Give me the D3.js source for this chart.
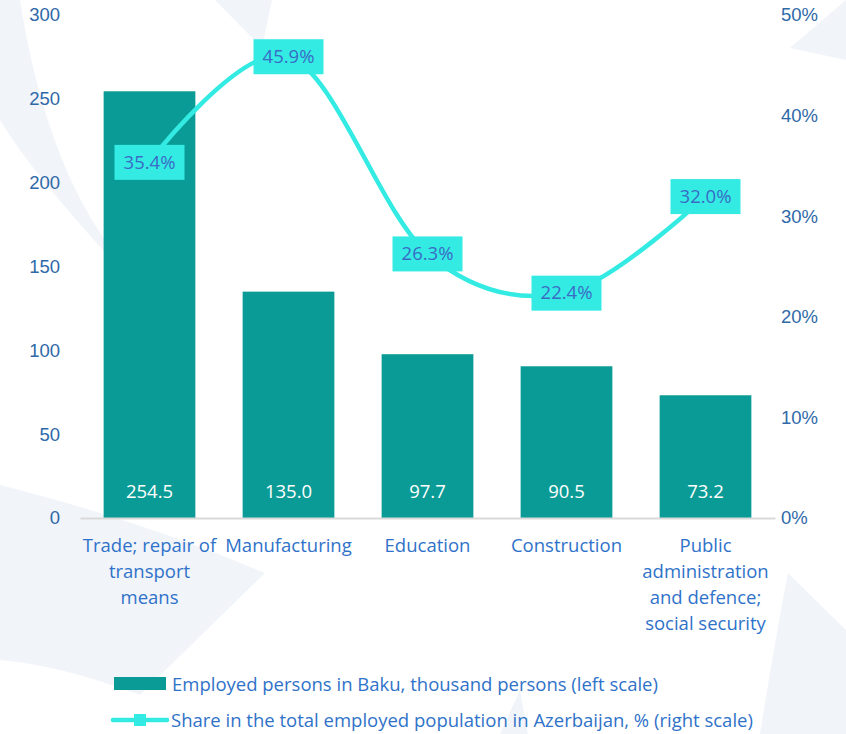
<!DOCTYPE html>
<html>
<head>
<meta charset="utf-8">
<script src="https://cdn.jsdelivr.net/npm/d3@7"></script>
<style>
  body { margin: 0; background: #fff; }
  svg { display: block; font-family: "Open Sans", Lato, sans-serif; }
</style>
</head>
<body>
<div class="chart"></div>
<script>
const categories = [
  ["Trade; repair of", "transport", "means"],
  ["Manufacturing"],
  ["Education"],
  ["Construction"],
  ["Public", "administration", "and defence;", "social security"]
];
const employed = [254.5, 135.0, 97.7, 90.5, 73.2];
const share = [35.4, 45.9, 26.3, 22.4, 32.0];
const leftTicks = [0, 50, 100, 150, 200, 250, 300];
const rightTicks = [0, 10, 20, 30, 40, 50];
const legendLabels = [
  "Employed persons in Baku, thousand persons (left scale)",
  "Share in the total employed population in Azerbaijan, % (right scale)"
];

const W = 846, H = 734;
const margin = { top: 15, left: 80, right: 71, bottom: 216 };
const width = W - margin.left - margin.right;
const height = H - margin.top - margin.bottom;

const barColor = "#0b9b96";
const lineColor = "#33ebe3";
const axisText = "#2e69a8";
const catText = "#2f72c9";
const fs = "18.5px";

const svg = d3.select(".chart").append("svg")
  .attr("width", W).attr("height", H);

// faint decorative background shapes
const bg = svg.append("g").attr("fill", "#f1f4f9");
bg.append("path").attr("d", "M0,0 L20,0 Q45,160 112,250 L112,260 Q30,170 0,120 Z");
bg.append("path").attr("d", "M0,485 Q140,520 265,573 L140,695 Q60,665 0,660 Z");
bg.append("path").attr("d", "M215,0 L272,0 L262,48 Z");
bg.append("path").attr("d", "M790,48 L846,0 L846,60 Z");
bg.append("path").attr("d", "M788,573 L846,630 L846,734 L760,734 Q775,640 788,573 Z");
bg.append("path").attr("d", "M500,734 L520,690 L528,734 Z");

const g = svg.append("g")
  .attr("transform", "translate(" + margin.left + "," + margin.top + ")");

const idx = d3.range(categories.length);
const x = d3.scaleBand().domain(idx).range([0, width]).paddingInner(0.34).paddingOuter(0.17);
const y = d3.scaleLinear().domain([0, 300]).range([height, 0]);
const y2 = d3.scaleLinear().domain([0, 50]).range([height, 0]);

// left axis
const yAxis = g.append("g")
  .call(d3.axisLeft(y).tickValues(leftTicks).tickSize(0).tickPadding(20));
yAxis.select(".domain").remove();
yAxis.selectAll("text").attr("fill", axisText).style("font-size", fs);

// right axis
const yAxis2 = g.append("g").attr("transform", "translate(" + width + ",0)")
  .call(d3.axisRight(y2).tickValues(rightTicks).tickFormat(d => d + "%").tickSize(0).tickPadding(6));
yAxis2.select(".domain").remove();
yAxis2.selectAll("text").attr("fill", axisText).style("font-size", fs);

// bars
g.selectAll(".bar").data(employed).enter().append("rect")
  .attr("class", "bar")
  .attr("x", (d, i) => x(i))
  .attr("width", x.bandwidth())
  .attr("y", d => y(d))
  .attr("height", d => height - y(d))
  .attr("fill", barColor);

g.selectAll(".barlabel").data(employed).enter().append("text")
  .attr("class", "barlabel")
  .attr("x", (d, i) => x(i) + x.bandwidth() / 2)
  .attr("y", height - 20)
  .attr("text-anchor", "middle")
  .attr("fill", "#fff")
  .style("font-size", fs)
  .text(d => d.toFixed(1));

// x axis
const xAxis = g.append("g").attr("transform", "translate(0," + height + ")")
  .call(d3.axisBottom(x).tickSize(0).tickFormat(""));
xAxis.select(".domain").attr("stroke", "#d9d9d9").attr("stroke-width", 2);

g.selectAll(".cat").data(categories).enter().append("text")
  .attr("class", "cat")
  .attr("text-anchor", "middle")
  .attr("fill", catText)
  .style("font-size", fs)
  .each(function (lines, i) {
    d3.select(this).selectAll("tspan").data(lines).enter().append("tspan")
      .attr("x", x(i) + x.bandwidth() / 2)
      .attr("y", (d, j) => height + 34 + j * 26)
      .text(d => d);
  });

// line
const line = d3.line()
  .x((d, i) => x(i) + x.bandwidth() / 2)
  .y(d => y2(d))
  .curve(d3.curveCardinal.tension(0));

g.append("path").datum(share)
  .attr("fill", "none")
  .attr("stroke", lineColor)
  .attr("stroke-width", 4.5)
  .attr("d", line);

const lbl = g.selectAll(".ptlabel").data(share).enter().append("g")
  .attr("class", "ptlabel")
  .attr("transform", (d, i) => "translate(" + (x(i) + x.bandwidth() / 2) + "," + y2(d) + ")");
lbl.append("rect")
  .attr("x", -35).attr("y", -17).attr("width", 70).attr("height", 35)
  .attr("fill", lineColor);
lbl.append("text")
  .attr("text-anchor", "middle")
  .attr("dy", "0.36em")
  .attr("fill", "#3a6cc6")
  .style("font-size", fs)
  .text(d => d.toFixed(1) + "%");

// legend
const leg = svg.append("g");
leg.append("rect").attr("x", 114).attr("y", 677).attr("width", 52).attr("height", 13).attr("fill", barColor);
leg.append("text").attr("x", 172).attr("y", 684).attr("dy", "0.36em")
  .attr("fill", catText).style("font-size", fs).text(legendLabels[0]);
leg.append("line").attr("x1", 113).attr("x2", 167).attr("y1", 720).attr("y2", 720)
  .attr("stroke", lineColor).attr("stroke-width", 4.5).attr("stroke-linecap", "round");
leg.append("rect").attr("x", 134).attr("y", 714).attr("width", 12).attr("height", 12).attr("fill", lineColor);
leg.append("text").attr("x", 171).attr("y", 720).attr("dy", "0.36em")
  .attr("fill", catText).style("font-size", fs).text(legendLabels[1]);
</script>
</body>
</html>
